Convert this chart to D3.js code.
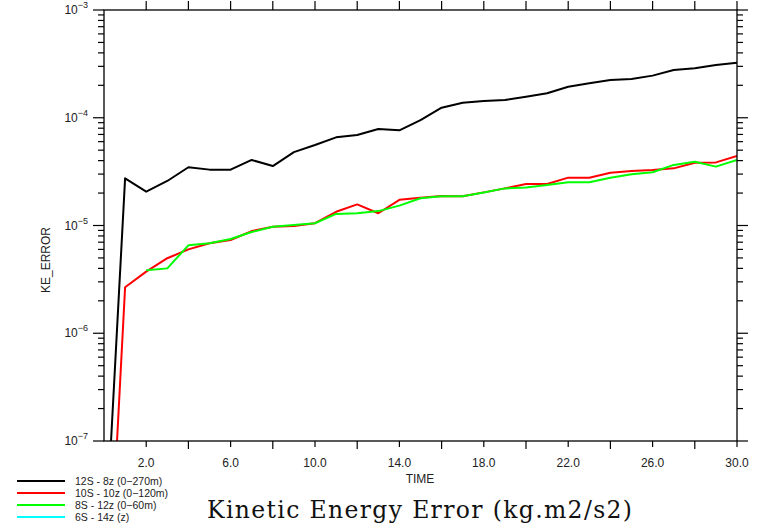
<!DOCTYPE html>
<html>
<head>
<meta charset="utf-8">
<script src="https://cdn.jsdelivr.net/npm/d3@7"></script>
<style>
	body { margin: 0; background: #fff; }
	svg { display: block; }
	text { font-family: 'Liberation Sans', 'DejaVu Sans', sans-serif; }
</style>
</head>
<body>
<svg width="765" height="527"></svg>
<script>
const times = d3.range(0, 31);

// values (t = 0 points sit below the axis)
const ke12s = [6e-9, 2.74e-5, 2.06e-5, 2.59e-5, 3.47e-5, 3.3e-5, 3.3e-5, 4.06e-5, 3.56e-5, 4.8e-5,
	5.58e-5, 6.58e-5, 6.92e-5, 7.87e-5, 7.64e-5, 9.5e-5, 1.24e-4, 1.38e-4, 1.43e-4, 1.46e-4,
	1.57e-4, 1.69e-4, 1.94e-4, 2.09e-4, 2.24e-4, 2.29e-4, 2.46e-4, 2.77e-4, 2.88e-4, 3.09e-4, 3.24e-4];
const ke10s = [5e-10, 2.67e-6, 3.73e-6, 4.97e-6, 6.0e-6, 6.84e-6, 7.33e-6, 8.88e-6, 9.75e-6, 9.9e-6,
	1.05e-5, 1.34e-5, 1.57e-5, 1.30e-5, 1.73e-5, 1.81e-5, 1.88e-5, 1.87e-5, 2.03e-5, 2.21e-5,
	2.43e-5, 2.43e-5, 2.78e-5, 2.78e-5, 3.09e-5, 3.2e-5, 3.27e-5, 3.39e-5, 3.83e-5, 3.85e-5, 4.42e-5];
const ke8s = [null, null, 3.84e-6, 4.0e-6, 6.55e-6, 6.84e-6, 7.5e-6, 8.7e-6, 9.75e-6, 1.01e-5,
	1.05e-5, 1.28e-5, 1.30e-5, 1.36e-5, 1.53e-5, 1.79e-5, 1.87e-5, 1.87e-5, 2.02e-5, 2.21e-5,
	2.25e-5, 2.38e-5, 2.52e-5, 2.52e-5, 2.78e-5, 2.99e-5, 3.12e-5, 3.65e-5, 3.91e-5, 3.52e-5, 4.06e-5];
const ke6s = [];

const seriesNames = ['12S - 8z (0\u2212270m)', '10S - 10z (0\u2212120m)', '8S - 12z (0\u221260m)', '6S - 14z (z)'];
const seriesColors = ['#000000', '#ff0000', '#00ff00', '#00ffff'];
const xTicks = d3.range(2, 31, 2);
const xLabelTicks = [2, 6, 10, 14, 18, 22, 26, 30];
const yDecades = [-7, -6, -5, -4, -3];

const svg = d3.select('svg'),
	plotL = 104, plotR = 737, plotT = 10, plotB = 441;

const x = d3.scaleLinear().domain([0, 30]).range([plotL, plotR]);
const y = d3.scaleLog().domain([1e-7, 1e-3]).range([plotB, plotT]);

svg.append('defs').append('clipPath').attr('id', 'plot')
	.append('rect').attr('x', plotL).attr('y', plotT).attr('width', plotR - plotL).attr('height', plotB - plotT);

// series
const allSeries = [ke12s, ke10s, ke8s, ke6s];
const line = d3.line()
	.defined(d => d[1] != null)
	.x(d => x(d[0]))
	.y(d => y(d[1]));

const lines = svg.append('g').attr('clip-path', 'url(#plot)');
allSeries.forEach((vals, i) => {
	if (!vals.length) return;
	lines.append('path')
		.datum(times.map((t, j) => [t, vals[j]]))
		.attr('d', line)
		.attr('fill', 'none')
		.attr('stroke', seriesColors[i])
		.attr('stroke-width', 2)
		.attr('stroke-linejoin', 'round');
});

// frame
svg.append('rect')
	.attr('x', plotL).attr('y', plotT)
	.attr('width', plotR - plotL).attr('height', plotB - plotT)
	.attr('fill', 'none').attr('stroke', '#000').attr('stroke-width', 1.3);

const axes = svg.append('g').attr('stroke', '#000').attr('stroke-width', 1.2);

// y ticks, outward on both sides
const minor = [];
yDecades.forEach(e => {
	if (e < -3) d3.range(2, 10).forEach(m => minor.push(m * Math.pow(10, e)));
});
minor.forEach(v => {
	axes.append('line').attr('x1', plotL - 6).attr('x2', plotL).attr('y1', y(v)).attr('y2', y(v));
	axes.append('line').attr('x1', plotR).attr('x2', plotR + 6).attr('y1', y(v)).attr('y2', y(v));
});
yDecades.forEach(e => {
	const v = Math.pow(10, e);
	axes.append('line').attr('x1', plotL - 11).attr('x2', plotL).attr('y1', y(v)).attr('y2', y(v));
	axes.append('line').attr('x1', plotR).attr('x2', plotR + 11).attr('y1', y(v)).attr('y2', y(v));
	const lab = svg.append('text')
		.attr('x', plotL - 16).attr('y', y(v) + 4)
		.attr('text-anchor', 'end')
		.attr('font-size', 12)
		.attr('fill', '#222');
	lab.append('tspan').text('10');
	lab.append('tspan').attr('dy', -6).attr('font-size', 9).text('\u2212' + (-e));
});

// x ticks, outward top and bottom
xTicks.forEach(t => {
	const labelled = xLabelTicks.includes(t);
	axes.append('line').attr('x1', x(t)).attr('x2', x(t)).attr('y1', plotB).attr('y2', plotB + (labelled ? 6 : 8));
	axes.append('line').attr('x1', x(t)).attr('x2', x(t)).attr('y1', plotT).attr('y2', plotT - 9);
});
xLabelTicks.forEach(t => {
	svg.append('text')
		.attr('x', x(t)).attr('y', 467)
		.attr('text-anchor', 'middle')
		.attr('font-size', 12)
		.attr('fill', '#222')
		.text(t.toFixed(1));
});

svg.append('text')
	.attr('x', 420).attr('y', 483)
	.attr('text-anchor', 'middle')
	.attr('font-size', 12)
	.attr('fill', '#222')
	.text('TIME');

svg.append('text')
	.attr('transform', 'translate(50,260) rotate(-90)')
	.attr('text-anchor', 'middle')
	.attr('font-size', 12)
	.attr('fill', '#222')
	.text('KE_ERROR');

// legend
const legend = svg.append('g');
seriesNames.forEach((name, i) => {
	const ly = 481 + i * 12;
	legend.append('line')
		.attr('x1', 17).attr('x2', 65).attr('y1', ly).attr('y2', ly)
		.attr('stroke', seriesColors[i]).attr('stroke-width', 2);
	legend.append('text')
		.attr('x', 75).attr('y', ly + 3.5)
		.attr('font-size', 10.5)
		.attr('fill', '#222')
		.text(name);
});

// title
svg.append('text')
	.attr('x', 207).attr('y', 518)
	.attr('textLength', 425)
	.attr('lengthAdjust', 'spacing')
	.attr('font-size', 23.5)
	.style('font-family', "'DejaVu Serif', 'Liberation Serif', serif")
	.attr('fill', '#111')
	.text('Kinetic Energy Error (kg.m2/s2)');
</script>
</body>
</html>
